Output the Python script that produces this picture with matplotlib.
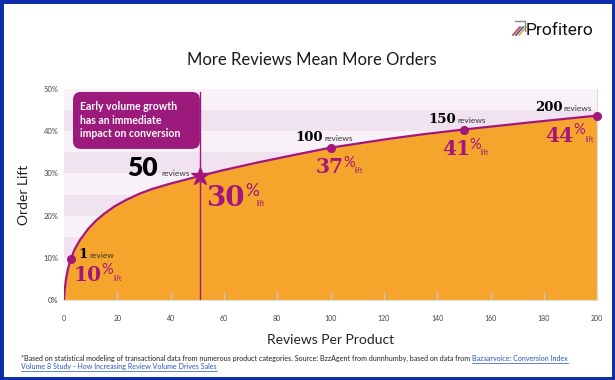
import matplotlib
matplotlib.use("Agg")
import matplotlib.pyplot as plt
from matplotlib.patches import FancyBboxPatch, Rectangle
from matplotlib.lines import Line2D

# curve (reviews per product -> order lift %)
curve_x = [0, 0.3, 0.8, 1.5, 2.5, 4, 6, 9, 12, 15, 19, 23, 28, 33, 40, 51,
           60, 72, 85, 100, 122, 135, 150, 175, 200]
curve_y = [0, 2.6, 5.0, 7.4, 9.6, 12.0, 14.2, 16.8, 18.8, 20.4, 22.2, 23.6,
           25.1, 26.3, 27.6, 29.4, 30.8, 32.5, 34.2, 36.1, 38.2, 39.3, 40.4,
           42.1, 43.7]

# highlighted points
pt_x = [2.5, 51, 100, 150, 200]
pt_y = [9.6, 29.4, 36.1, 40.4, 43.7]
pt_count = ['1', '50', '100', '150', '200']
pt_unit = ['review', 'reviews', 'reviews', 'reviews', 'reviews']
pt_lift = ['10', '30', '37', '41', '44']

xticks = [0, 20, 40, 60, 80, 100, 120, 140, 160, 180, 200]
yticks = [0, 10, 20, 30, 40, 50]
ytick_labels = ['0%', '10%', '20%', '30%', '40%', '50%']

MAG = '#a3177d'
ORANGE = '#f6a52c'
BAND_A = '#f1e2f0'
BAND_B = '#f8f2f8'
SANS = 'Lato'
SERIF = 'DejaVu Serif'

plt.rcParams['font.family'] = [SANS, 'DejaVu Sans']

fig = plt.figure(figsize=(6.15, 3.8), dpi=100)
ax = fig.add_axes([0.104, 0.2105, 0.867, 0.5553])

# background bands every 5%
for i, lo in enumerate(range(0, 50, 5)):
    ax.axhspan(lo, lo + 5, color=BAND_A if i % 2 == 0 else BAND_B, lw=0, zorder=0)

ax.fill_between(curve_x, 0, curve_y, color=ORANGE, lw=0, zorder=1)
ax.plot(curve_x, curve_y, color=MAG, lw=1.6, zorder=3, solid_capstyle='round')

# vertical marker line at 50 reviews, up to the callout
ax.plot([pt_x[1], pt_x[1]], [0, 49.3], color=MAG, lw=1.0, zorder=2)

ax.plot([pt_x[0]] + pt_x[2:], [pt_y[0]] + pt_y[2:], 'o', color=MAG, ms=5.5,
        zorder=4, clip_on=False)
ax.plot(pt_x[1], pt_y[1], '*', color=MAG, ms=13.5, zorder=4, clip_on=False)

# callout box
asp = (533 / 200) / (211 / 50)
box = FancyBboxPatch((3.4, 35.8), 47.6, 13.5,
                     boxstyle='round,pad=0,rounding_size=3',
                     mutation_aspect=asp, facecolor='#9c1a7b', edgecolor='none',
                     zorder=5)
ax.add_patch(box)
ax.text(6, 42.6, 'Early volume growth\nhas an immediate\nimpact on conversion',
        color='white', fontsize=7.6, fontweight='bold', va='center', ha='left',
        linespacing=1.25, zorder=6)

# labels: (count dx, count dy, unit dx, lift dx, lift dy, pct dy, lift-word dx)
offs = [
    (17, 1.5, 19, 31, -21.5, -3.5, 43),
    (-42, -0.5, -39, 45, -30.5, -6.6, 57),
    (-8, 7, -6, 13, -25, -8, 24),
    (-8, 7, -6, 6, -25, -8, 17),
    (-35, 4.6, -34, -24, -26, -7.4, -12),
]
num_size = [9.5, 19, 9.5, 9.5, 9.5]
lift_size = [14.5, 20, 14.5, 14.5, 14.5]
pct_size = [10.5, 12.5, 10.5, 10.5, 10.5]
for i in range(len(pt_x)):
    cdx, cdy, udx, ldx, ldy, pdy, wdx = offs[i]
    xy = (pt_x[i], pt_y[i])
    if i == 1:
        ax.annotate(pt_count[i], xy, xytext=(cdx, cdy), textcoords='offset pixels',
                    ha='right', va='baseline', fontsize=num_size[i],
                    fontweight='heavy', color='black', zorder=7)
    else:
        ax.annotate(pt_count[i], xy, xytext=(cdx, cdy), textcoords='offset pixels',
                    ha='right', va='baseline', fontsize=num_size[i], family=SERIF,
                    fontweight='bold', color='black', zorder=7)
    ax.annotate(pt_unit[i], xy, xytext=(udx, cdy), textcoords='offset pixels',
                ha='left', va='baseline', fontsize=6, color='#333333', zorder=7)
    ax.annotate(pt_lift[i], xy, xytext=(ldx, ldy), textcoords='offset pixels',
                ha='right', va='baseline', fontsize=lift_size[i], family=SERIF,
                fontweight='bold', color=MAG, zorder=7)
    ax.annotate('%', xy, xytext=(ldx, pdy), textcoords='offset pixels',
                ha='left', va='top', fontsize=pct_size[i], color=MAG, zorder=7)
    ax.annotate('lift', xy, xytext=(wdx, ldy), textcoords='offset pixels',
                ha='left', va='baseline', fontsize=5, color=MAG, zorder=7)

ax.set_xlim(0, 200)
ax.set_ylim(0, 50)
ax.set_xticks(xticks)
ax.set_yticks(yticks)
ax.set_yticklabels(ytick_labels)
ax.tick_params(axis='x', direction='in', length=6, width=1, color='#c8c8c8',
               labelsize=5, labelcolor='#444444', pad=11)
ax.tick_params(axis='y', length=0, labelsize=5.5, labelcolor='#444444', pad=4)
for s in ['left', 'top']:
    ax.spines[s].set_visible(False)
ax.spines['right'].set_color('#dddddd')
ax.spines['bottom'].set_color('#dddddd')

ax.set_xlabel('Reviews Per Product', fontsize=10, color='#222222')
ax.xaxis.set_label_coords(0.5, -0.161)
ax.set_ylabel('Order Lift', fontsize=10, color='#222222')
ax.yaxis.set_label_coords(-0.064, 0.5)

fig.text(0.507, 1 - 60 / 380, 'More Reviews Mean More Orders', ha='center',
         va='center', fontsize=12, color='#1a1a1a')

# logo
fig.text(526 / 615, 1 - 35 / 380, 'Profitero', family='Roboto', fontsize=12.5,
         ha='left', va='baseline', color='#111111')
for k, c in enumerate(['#e8403a', '#2b6bd6', '#f5a623']):
    x0 = 513 + k * 3
    fig.add_artist(Line2D([x0 / 615, (x0 + 7) / 615],
                          [1 - 35 / 380, 1 - 27 / 380], color=c, lw=1.3,
                          transform=fig.transFigure))
fig.add_artist(Line2D([515 / 615, 525 / 615, 525 / 615],
                      [1 - 21 / 380, 1 - 21 / 380, 1 - 31 / 380],
                      color='#888888', lw=1.0, transform=fig.transFigure))

# footnote with link
renderer = fig.canvas.get_renderer()
fs = 5.1
LINK = '#2a55c8'
t1 = fig.text(21 / 615, 1 - 361 / 380,
              '*Based on statistical modeling of transactional data from numerous '
              'product categories. Source: BzzAgent from dunnhumby, based on data from ',
              fontsize=fs, color='#222222', ha='left', va='baseline')
bb = t1.get_window_extent(renderer)
links = [fig.text(bb.x1 / 615, 1 - 361 / 380, 'Bazaarvoice: Conversion Index',
                  fontsize=fs, color=LINK, ha='left', va='baseline'),
         fig.text(21 / 615, 1 - 369.5 / 380,
                  'Volume 8 Study - How Increasing Review Volume Drives Sales',
                  fontsize=fs, color=LINK, ha='left', va='baseline')]
for t, ypx in zip(links, [361, 369.5]):
    b = t.get_window_extent(renderer)
    fig.add_artist(Line2D([b.x0 / 615, b.x1 / 615],
                          [1 - (ypx + 1.5) / 380, 1 - (ypx + 1.5) / 380],
                          color=LINK, lw=0.5, transform=fig.transFigure))

# blue frame
fig.add_artist(Rectangle((0, 0), 1, 1, transform=fig.transFigure, fill=False,
                         edgecolor='#0c2ea8', linewidth=5))

fig.savefig('out.png', dpi=100)
